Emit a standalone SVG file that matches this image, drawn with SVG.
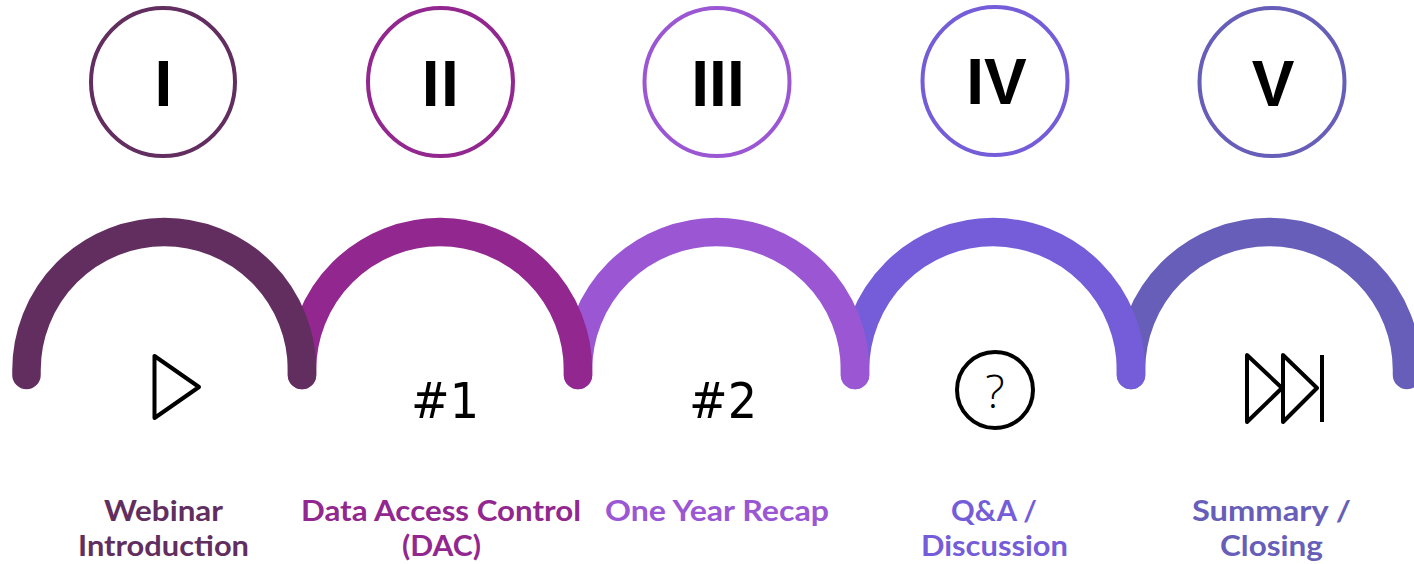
<svg xmlns="http://www.w3.org/2000/svg" width="1414" height="564" viewBox="0 0 1414 564">
<style>
.arc{fill:none;stroke-width:28.5;stroke-linecap:round}
.ring{fill:#fff;stroke-width:4}
.num{font-family:"Liberation Sans",Arial,sans-serif;font-weight:700;font-size:64px;text-anchor:middle;fill:#000}
.lab{font-family:"Lato","Liberation Sans",sans-serif;font-weight:700;font-size:28px;text-anchor:middle}
.ico{fill:none;stroke:#000;stroke-width:4;stroke-linejoin:round;stroke-linecap:round}
.hash{font-family:"DejaVu Sans",sans-serif;font-size:50px;text-anchor:middle;fill:#000}
.c1{stroke:#622e60;fill:#622e60}.c2{stroke:#92278f;fill:#92278f}.c3{stroke:#9b57d3;fill:#9b57d3}.c4{stroke:#755dd9;fill:#755dd9}.c5{stroke:#665eb8;fill:#665eb8}
.lab.c1,.lab.c2,.lab.c3,.lab.c4,.lab.c5{stroke:none}
.arc.c1,.arc.c2,.arc.c3,.arc.c4,.arc.c5{fill:none}
.ring.c1,.ring.c2,.ring.c3,.ring.c4,.ring.c5{fill:#fff}
</style>
<rect width="1414" height="564" fill="#fff"/>
<g id="connectors">
<path class="arc c5" d="M1131 375V370A138 138 0 0 1 1407 370V375"/>
<path class="arc c4" d="M855 375V370A138 138 0 0 1 1131 370V375"/>
<path class="arc c3" d="M578 375V370A138.500 138 0 0 1 855 370V375"/>
<path class="arc c2" d="M302 375V370A138 138 0 0 1 578 370V375"/>
<path class="arc c1" d="M26.500 375V370A137.750 138 0 0 1 302 370V375"/>
</g>
<g id="node-1">
<ellipse class="ring c1" cx="163" cy="82" rx="72" ry="74"/>
<text class="num" x="163.500" y="106">I</text>
<path class="ico" d="M154.500 356V418L199 387Z"/>
<text class="lab c1" x="163.500" y="521" textLength="119" lengthAdjust="spacingAndGlyphs">Webinar</text>
<text class="lab c1" x="163.500" y="556" textLength="171" lengthAdjust="spacingAndGlyphs">Introduction</text>
</g>
<g id="node-2">
<ellipse class="ring c2" cx="440.500" cy="82" rx="72.500" ry="74"/>
<text class="num" x="441" y="106" letter-spacing="1.500">II</text>
<text class="hash" x="445" y="418" textLength="68" lengthAdjust="spacingAndGlyphs">#1</text>
<text class="lab c2" x="441" y="521" textLength="280" lengthAdjust="spacingAndGlyphs">Data Access Control</text>
<text class="lab c2" x="441.500" y="556" textLength="79" lengthAdjust="spacingAndGlyphs">(DAC)</text>
</g>
<g id="node-3">
<ellipse class="ring c3" cx="717" cy="82" rx="72.500" ry="74"/>
<text class="num" x="718" y="106">III</text>
<text class="hash" x="723" y="418" textLength="68" lengthAdjust="spacingAndGlyphs">#2</text>
<text class="lab c3" x="717" y="521" textLength="224" lengthAdjust="spacingAndGlyphs">One Year Recap</text>
</g>
<g id="node-4">
<ellipse class="ring c4" cx="995" cy="81" rx="72.500" ry="74"/>
<text class="num" x="996.500" y="104">IV</text>
<circle class="ico" cx="995" cy="390" r="38"/>
<text x="995" y="408" font-family="Open Sans,sans-serif" font-weight="300" font-size="46" text-anchor="middle" fill="#000">?</text>
<text class="lab c4" x="994" y="521" textLength="86" lengthAdjust="spacingAndGlyphs">Q&amp;A /</text>
<text class="lab c4" x="994.500" y="556" textLength="147" lengthAdjust="spacingAndGlyphs">Discussion</text>
</g>
<g id="node-5">
<ellipse class="ring c5" cx="1272" cy="82" rx="72.500" ry="74"/>
<text class="num" x="1273" y="106">V</text>
<path class="ico" d="M1247 355V422L1282 388ZM1283 355V422L1317 388Z"/>
<path class="ico" d="M1322 355V422" style="stroke-linecap:butt"/>
<text class="lab c5" x="1271.500" y="521" textLength="159" lengthAdjust="spacingAndGlyphs">Summary /</text>
<text class="lab c5" x="1271.500" y="556" textLength="103" lengthAdjust="spacingAndGlyphs">Closing</text>
</g>
</svg>
